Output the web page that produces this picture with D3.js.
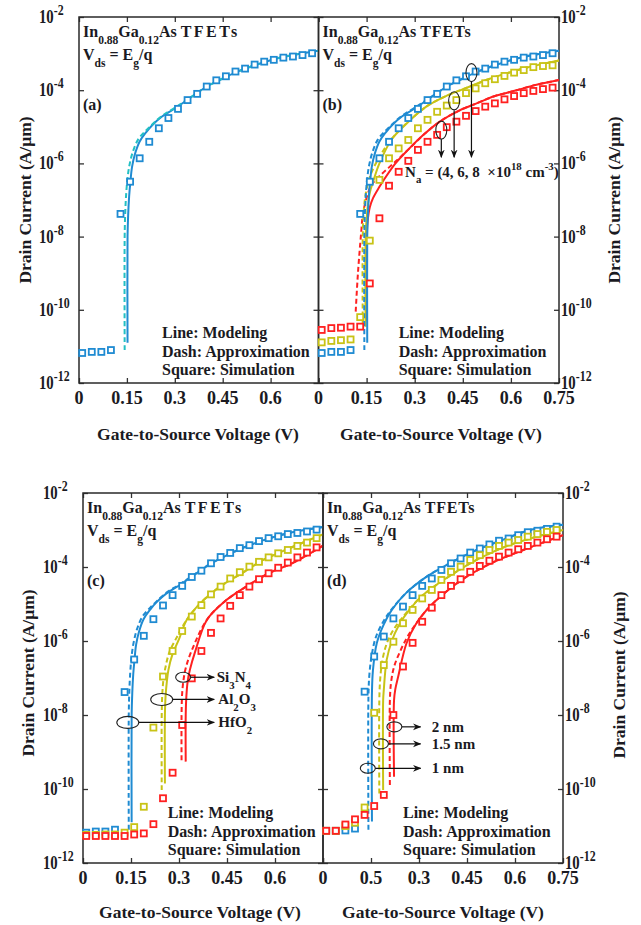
<!DOCTYPE html>
<html><head><meta charset="utf-8">
<script src="https://cdn.jsdelivr.net/npm/d3@7"></script>
<style>
body{margin:0;background:#fff}
svg{display:block}
text{font-family:"Liberation Serif","Times New Roman",serif;font-weight:bold;fill:#1a1a22;white-space:pre}
</style>
</head><body>
<svg id="chart" width="641" height="925"></svg>
<script>
// ---------------- DATA ----------------
const xTicks = [0, 0.15, 0.3, 0.45, 0.6, 0.75];
const xLabelsA = ["0", "0.15", "0.3", "0.45", "0.6", ""];
const xLabelsB = ["0", "0.15", "0.3", "0.45", "0.6", "0.75"];
const xLabelsC = ["0", "0.15", "0.3", "0.45", "0.6", ""];
const xLabelsD = ["0", "0.5", "0.3", "0.45", "0.6", "0.75"];
const yTickExps = [-2, -4, -6, -8, -10, -12];

// simulation gate voltages (V)
const vSim = [0.01,0.04,0.07,0.10,0.13,0.16,0.19,0.22,0.25,0.28,0.31,0.34,0.37,0.40,0.43,0.46,0.49,0.52,0.55,0.58,0.61,0.64,0.67,0.70,0.73];

// simulation log10(Id) values
const simBase = [-11.18,-11.15,-11.15,-11.10,-7.38,-6.50,-5.86,-5.41,-5.04,-4.76,-4.51,-4.27,-4.10,-3.90,-3.73,-3.62,-3.49,-3.41,-3.30,-3.22,-3.17,-3.11,-3.08,-3.04,-2.99];
const simB6 = [-10.89,-10.85,-10.83,-10.81,-10.20,-8.11,-6.45,-5.86,-5.59,-5.36,-5.04,-4.81,-4.59,-4.42,-4.27,-4.08,-3.95,-3.81,-3.70,-3.61,-3.52,-3.45,-3.37,-3.34,-3.32];
const simB4 = [-10.55,-10.50,-10.49,-10.46,-10.46,-9.28,-7.50,-6.61,-6.23,-5.93,-5.63,-5.41,-5.22,-5.01,-4.86,-4.70,-4.57,-4.45,-4.36,-4.25,-4.16,-4.08,-4.02,-3.97,-3.93];
const simCAl = [-11.24,-11.24,-11.23,-11.23,-11.18,-11.03,-10.48,-8.34,-6.96,-6.27,-5.73,-5.34,-5.03,-4.74,-4.53,-4.31,-4.14,-3.99,-3.86,-3.74,-3.63,-3.54,-3.43,-3.34,-3.22];
const simCSi = [-11.27,-11.27,-11.27,-11.27,-11.27,-11.23,-11.20,-10.95,-10.25,-9.56,-8.27,-7.01,-6.27,-5.78,-5.39,-5.05,-4.76,-4.53,-4.33,-4.17,-4.02,-3.88,-3.74,-3.61,-3.47];
const simD1 = [-11.13,-11.13,-11.12,-11.07,-7.37,-6.42,-5.88,-5.39,-5.07,-4.76,-4.51,-4.31,-4.08,-3.90,-3.77,-3.61,-3.50,-3.39,-3.29,-3.23,-3.14,-3.06,-3.02,-2.97,-2.91];
const simD15 = [-11.13,-11.13,-11.00,-10.91,-10.50,-7.94,-6.65,-6.02,-5.52,-5.16,-4.85,-4.62,-4.35,-4.13,-3.99,-3.81,-3.68,-3.54,-3.43,-3.34,-3.27,-3.18,-3.11,-3.05,-3.00];
const simD2 = [-11.13,-11.13,-10.96,-10.82,-10.70,-10.46,-10.16,-8.00,-6.69,-6.05,-5.48,-5.10,-4.76,-4.51,-4.33,-4.13,-3.97,-3.83,-3.72,-3.61,-3.52,-3.43,-3.34,-3.25,-3.18];

// modeling (solid) and approximation (dash) curves: [Vgs, log10(Id)]
const modBase = [[0.152,-10.9],[0.152,-8.0],[0.154,-7.4],[0.157,-6.9],[0.161,-6.5],[0.166,-6.1],[0.175,-5.75],[0.19,-5.4],[0.21,-5.15],[0.23,-4.95],[0.26,-4.72],[0.3,-4.5],[0.35,-4.2],[0.4,-3.9],[0.45,-3.68],[0.5,-3.48],[0.55,-3.32],[0.6,-3.18],[0.65,-3.07],[0.7,-2.99],[0.75,-2.92]];
const apxBase = [[0.143,-11.1],[0.143,-8.0],[0.145,-7.3],[0.148,-6.8],[0.152,-6.4],[0.158,-6.05],[0.168,-5.7],[0.185,-5.35],[0.21,-5.1],[0.23,-4.93],[0.26,-4.7],[0.3,-4.48],[0.35,-4.19],[0.4,-3.9],[0.45,-3.68],[0.5,-3.48],[0.55,-3.32],[0.6,-3.18],[0.65,-3.07],[0.7,-2.99],[0.75,-2.92]];
const modB6 = [[0.147,-10.46],[0.147,-8.0],[0.152,-7.3],[0.16,-6.8],[0.172,-6.45],[0.19,-6.0],[0.227,-5.36],[0.27,-4.95],[0.336,-4.45],[0.4,-4.15],[0.472,-3.9],[0.53,-3.7],[0.587,-3.54],[0.65,-3.38],[0.7,-3.28],[0.75,-3.19]];
const apxB6 = [[0.138,-10.4],[0.138,-8.0],[0.142,-7.2],[0.15,-6.7],[0.163,-6.3],[0.185,-5.9],[0.227,-5.34],[0.27,-4.94],[0.336,-4.45],[0.4,-4.15],[0.472,-3.9],[0.53,-3.7],[0.587,-3.54],[0.65,-3.38],[0.7,-3.28],[0.75,-3.19]];
const modB4 = [[0.15,-10.3],[0.15,-8.2],[0.153,-7.6],[0.16,-7.2],[0.17,-6.95],[0.19,-6.64],[0.2,-6.5],[0.24,-6.0],[0.279,-5.63],[0.33,-5.2],[0.378,-4.86],[0.44,-4.55],[0.493,-4.36],[0.55,-4.16],[0.618,-4.0],[0.68,-3.85],[0.75,-3.72]];
const apxB4 = [[0.116,-10.05],[0.123,-9.0],[0.133,-7.9],[0.139,-7.36],[0.154,-6.82],[0.165,-6.59],[0.19,-6.35],[0.24,-5.95],[0.279,-5.63],[0.33,-5.2],[0.378,-4.86],[0.44,-4.55],[0.493,-4.36],[0.55,-4.16],[0.618,-4.0],[0.68,-3.85],[0.75,-3.72]];
const modCAl = [[0.256,-9.85],[0.256,-8.0],[0.258,-7.5],[0.262,-7.1],[0.267,-6.78],[0.28,-6.35],[0.3,-5.95],[0.324,-5.43],[0.37,-4.95],[0.428,-4.53],[0.5,-4.15],[0.563,-3.81],[0.63,-3.55],[0.69,-3.33],[0.75,-3.12]];
const apxCAl = [[0.246,-10.03],[0.246,-8.0],[0.248,-7.4],[0.252,-7.0],[0.258,-6.7],[0.27,-6.3],[0.29,-5.95],[0.324,-5.43],[0.37,-4.95],[0.428,-4.53],[0.5,-4.15],[0.563,-3.81],[0.63,-3.55],[0.69,-3.33],[0.75,-3.12]];
const modCSi = [[0.321,-9.26],[0.321,-8.0],[0.323,-7.5],[0.327,-7.1],[0.334,-6.78],[0.35,-6.3],[0.387,-5.43],[0.44,-4.95],[0.51,-4.53],[0.58,-4.17],[0.656,-3.89],[0.75,-3.42]];
const apxCSi = [[0.308,-9.22],[0.308,-8.0],[0.31,-7.4],[0.315,-7.0],[0.322,-6.7],[0.34,-6.25],[0.387,-5.43],[0.44,-4.95],[0.51,-4.53],[0.58,-4.17],[0.656,-3.89],[0.75,-3.42]];
const modD1 = [[0.153,-10.88],[0.153,-7.4],[0.156,-6.8],[0.168,-6.06],[0.19,-5.55],[0.215,-5.16],[0.26,-4.7],[0.324,-4.26],[0.4,-3.88],[0.48,-3.54],[0.56,-3.27],[0.647,-3.0],[0.75,-2.86]];
const apxD1 = [[0.142,-11.1],[0.142,-7.5],[0.145,-6.9],[0.152,-6.4],[0.165,-5.9],[0.19,-5.45],[0.215,-5.14],[0.26,-4.7],[0.324,-4.26],[0.4,-3.88],[0.48,-3.54],[0.56,-3.27],[0.647,-3.0],[0.75,-2.86]];
const modD15 = [[0.188,-10.03],[0.188,-7.6],[0.19,-7.32],[0.199,-6.51],[0.215,-6.0],[0.235,-5.61],[0.27,-5.15],[0.319,-4.71],[0.4,-4.22],[0.48,-3.81],[0.57,-3.45],[0.668,-3.18],[0.75,-3.0]];
const apxD15 = [[0.176,-10.12],[0.176,-7.6],[0.179,-7.0],[0.186,-6.5],[0.2,-6.05],[0.22,-5.7],[0.25,-5.35],[0.3,-4.85],[0.319,-4.71],[0.4,-4.22],[0.48,-3.81],[0.57,-3.45],[0.668,-3.18],[0.75,-3.0]];
const modD2 = [[0.222,-9.67],[0.222,-7.6],[0.226,-7.3],[0.235,-6.96],[0.261,-6.06],[0.29,-5.55],[0.324,-5.16],[0.38,-4.7],[0.449,-4.26],[0.53,-3.88],[0.626,-3.54],[0.69,-3.33],[0.75,-3.14]];
const apxD2 = [[0.209,-9.89],[0.209,-7.6],[0.213,-7.1],[0.222,-6.7],[0.24,-6.3],[0.27,-5.8],[0.324,-5.16],[0.38,-4.7],[0.449,-4.26],[0.53,-3.88],[0.626,-3.54],[0.69,-3.33],[0.75,-3.14]];

// ---------------- STYLE ----------------
const BLUE = "#1f8bd2", YEL = "#c8c316", RED = "#ff2020", TEAL = "#22c0c4";
const svg = d3.select("#chart");

const defs = svg.append("defs");
defs.append("marker").attr("id","arr").attr("viewBox","0 0 10 10").attr("refX",9).attr("refY",5)
  .attr("markerWidth",7).attr("markerHeight",7).attr("orient","auto-start-reverse")
  .append("path").attr("d","M0,1 L10,5 L0,9 L3,5 Z").attr("fill","#111");

// parts: [text, kind(0 normal,1 sub,2 sup), letterSpacing?]
function rich(g, x, y, parts, fs) {
  const t = g.append("text").attr("x", x).attr("y", y).attr("font-size", fs);
  let cur = 0;
  parts.forEach(([s, k, ls]) => {
    const target = k === 1 ? fs * 0.42 : k === 2 ? -fs * 0.42 : 0;
    const ts = t.append("tspan").attr("dy", target - cur).attr("font-size", k ? fs * 0.72 : fs).text(s);
    if (ls) ts.attr("letter-spacing", ls);
    cur = target;
  });
  return t;
}

function drawPanel(p) {
  const x = d3.scaleLinear().domain([0, 0.75]).range([p.x0, p.x1]);
  const y = d3.scaleLog().domain([1e-12, 1e-2]).range([p.y1, p.y0]);
  const g = svg.append("g");
  const yVals = yTickExps.map(e => Math.pow(10, e));
  const tickStyle = s => { s.select(".domain").remove(); s.selectAll("line").attr("stroke","#333").attr("stroke-width",1.3); };
  g.append("g").attr("transform", `translate(0,${p.y1})`).call(d3.axisBottom(x).tickValues(xTicks).tickSize(-5).tickFormat("")).call(tickStyle);
  g.append("g").attr("transform", `translate(0,${p.y0})`).call(d3.axisTop(x).tickValues(xTicks).tickSize(-5).tickFormat("")).call(tickStyle);
  g.append("g").attr("transform", `translate(${p.x0},0)`).call(d3.axisLeft(y).tickValues(yVals).tickSize(-5).tickFormat("")).call(tickStyle);
  g.append("g").attr("transform", `translate(${p.x1},0)`).call(d3.axisRight(y).tickValues(yVals).tickSize(-5).tickFormat("")).call(tickStyle);
  g.append("rect").attr("x", p.x0).attr("y", p.y0).attr("width", p.x1 - p.x0).attr("height", p.y1 - p.y0)
    .attr("fill", "none").attr("stroke", "#2a2a2a").attr("stroke-width", 1.5);

  // x tick labels
  xTicks.forEach((v, i) => {
    if (!p.xLabels[i]) return;
    g.append("text").attr("x", x(v)).attr("y", p.y1 + 21).attr("text-anchor", "middle").attr("font-size", 18).text(p.xLabels[i]);
  });
  // y tick labels
  yTickExps.forEach(e => {
    const t = g.append("text").attr("transform", `translate(${p.yLabX},${y(Math.pow(10, e)) + 6}) scale(0.82,1)`).attr("font-size", 18);
    t.append("tspan").text("10");
    t.append("tspan").attr("dy", -8).attr("font-size", 14.5).text("-" + Math.abs(e));
  });
  // axis titles
  g.append("text").attr("transform", `translate(${p.yTitleX},${p.yTitleY}) rotate(-90)`).attr("text-anchor","middle").attr("font-size",17.5).text("Drain Current (A/\u03bcm)");
  g.append("text").attr("x", p.xTitleX).attr("y", p.xTitleY).attr("text-anchor","middle").attr("font-size",17.5).text("Gate-to-Source Voltage (V)");

  // curves
  const line = d3.line().x(d => x(d[0])).y(d => y(Math.pow(10, d[1]))).curve(d3.curveCatmullRom.alpha(0.5));
  p.curves.forEach(c => {
    g.append("path").datum(c.data).attr("d", line).attr("fill", "none").attr("stroke", c.color)
      .attr("stroke-width", 2).attr("stroke-dasharray", c.dash ? "5,3" : null);
  });
  // simulation squares
  p.sims.forEach(s => {
    g.append("g").selectAll("rect").data(vSim.map((v, i) => [v, s.data[i]])).join("rect")
      .attr("x", d => x(d[0]) - 3).attr("y", d => y(Math.pow(10, d[1])) - 3)
      .attr("width", 6).attr("height", 6).attr("fill", "#fff").attr("stroke", s.color).attr("stroke-width", 1.8);
  });

  // heading text
  const hx = p.x0 + 4;
  rich(g, hx, p.y0 + 20, [["In",0],["0.88",1],["Ga",0],["0.12",1],["As ",0],["TFETs",0,p.tfetSpacing]], 16);
  rich(g, hx, p.y0 + 43, [["V",0],["ds",1],[" = E",0],["g",1],["/q",0]], 16);
  g.append("text").attr("x", hx).attr("y", p.y0 + 93).attr("font-size", 16).text(p.tag);

  // legend text
  const lx = x(p.legV);
  ["Line: Modeling", "Dash: Approximation", "Square: Simulation"].forEach((s, i) => {
    g.append("text").attr("x", lx).attr("y", y(1e-12) - 45 + i * 18.5).attr("font-size", 16).text(s);
  });
  return {g, x, y};
}

// ---------------- PANELS ----------------
const pa = drawPanel({x0:79, x1:318.5, y0:17, y1:383, xLabels:xLabelsA, yLabX:39, yTitleX:31, yTitleY:200, xTitleX:198, xTitleY:440, tag:"(a)", legV:0.26, tfetSpacing:2.5,
  curves:[{data:modBase,color:BLUE},{data:apxBase,color:TEAL,dash:true}],
  sims:[{data:simBase,color:BLUE}]});

const pb = drawPanel({x0:318.5, x1:559, y0:17, y1:383, xLabels:xLabelsB, yLabX:561, yTitleX:620, yTitleY:200, xTitleX:441, xTitleY:440, tag:"(b)", legV:0.25, tfetSpacing:1,
  curves:[{data:modB4,color:RED},{data:apxB4,color:RED,dash:true},{data:modB6,color:YEL},{data:apxB6,color:YEL,dash:true},{data:modBase,color:BLUE},{data:apxBase,color:BLUE,dash:true}],
  sims:[{data:simBase,color:BLUE},{data:simB6,color:YEL},{data:simB4,color:RED}]});

const pc = drawPanel({x0:83, x1:323, y0:493, y1:863, xLabels:xLabelsC, yLabX:43, yTitleX:34, yTitleY:673, xTitleX:200, xTitleY:918, tag:"(c)", legV:0.265, tfetSpacing:2.5,
  curves:[{data:modBase,color:BLUE},{data:apxBase,color:BLUE,dash:true},{data:modCAl,color:YEL},{data:apxCAl,color:YEL,dash:true},{data:modCSi,color:RED},{data:apxCSi,color:RED,dash:true}],
  sims:[{data:simBase,color:BLUE},{data:simCAl,color:YEL},{data:simCSi,color:RED}]});

const pd = drawPanel({x0:323, x1:563, y0:493, y1:863, xLabels:xLabelsD, yLabX:565, yTitleX:625, yTitleY:675, xTitleX:443, xTitleY:918, tag:"(d)", legV:0.25, tfetSpacing:0.8,
  curves:[{data:modD1,color:BLUE},{data:apxD1,color:BLUE,dash:true},{data:modD15,color:YEL},{data:apxD15,color:YEL,dash:true},{data:modD2,color:RED},{data:apxD2,color:RED,dash:true}],
  sims:[{data:simD1,color:BLUE},{data:simD15,color:YEL},{data:simD2,color:RED}]});

// ---------------- ANNOTATIONS ----------------
function ell(P, v, lg, rx, ry) {
  P.g.append("ellipse").attr("cx", P.x(v)).attr("cy", P.y(Math.pow(10, lg))).attr("rx", rx).attr("ry", ry)
    .attr("fill", "none").attr("stroke", "#222").attr("stroke-width", 1.1);
}
function arrow(P, v1, l1, v2, l2) {
  P.g.append("line").attr("x1", P.x(v1)).attr("y1", P.y(Math.pow(10, l1))).attr("x2", P.x(v2)).attr("y2", P.y(Math.pow(10, l2)))
    .attr("stroke", "#111").attr("stroke-width", 1.2).attr("marker-end", "url(#arr)");
}
// (b) doping
[[0.383,-5.09,-5.34],[0.423,-4.29,-4.55],[0.477,-3.52,-3.77]].forEach(([v, l, l0]) => {
  ell(pb, v, l, 5.5, 9);
  arrow(pb, v, l0, v, -5.83);
});
rich(pb.g, pb.x(0.27), pb.y(Math.pow(10, -6.36)), [["N",0],["a",1],[" = (4, 6, 8  \u00d710",0],["18",2],[" cm",0],["-3",2],[")",0]], 15);

// (c) dielectrics
[[0.313,-6.98,7.5,5],[0.246,-7.58,11,6],[0.14,-8.2,11,6]].forEach(d => {
  ell(pc, d[0], d[1], d[2], d[3]);
  arrow(pc, d[0] + d[2] / 320, d[1], 0.41, d[1]);
});
rich(pc.g, pc.x(0.418), pc.y(Math.pow(10, -6.98)) + 5, [["Si",0],["3",1],["N",0],["4",1]], 15);
rich(pc.g, pc.x(0.423), pc.y(Math.pow(10, -7.58)) + 5, [["Al",0],["2",1],["O",0],["3",1]], 15);
rich(pc.g, pc.x(0.423), pc.y(Math.pow(10, -8.2)) + 5, [["HfO",0],["2",1]], 15);

// (d) thickness
[[0.14,-9.44,"1 nm"],[0.181,-8.78,"1.5 nm"],[0.223,-8.32,"2 nm"]].forEach(([v, l, s]) => {
  ell(pd, v, l, 7.5, 5);
  arrow(pd, v + 7.5 / 320, l, 0.305, l);
  pd.g.append("text").attr("x", pd.x(0.34)).attr("y", pd.y(Math.pow(10, l)) + 5).attr("font-size", 15).text(s);
});
</script>
</body></html>
